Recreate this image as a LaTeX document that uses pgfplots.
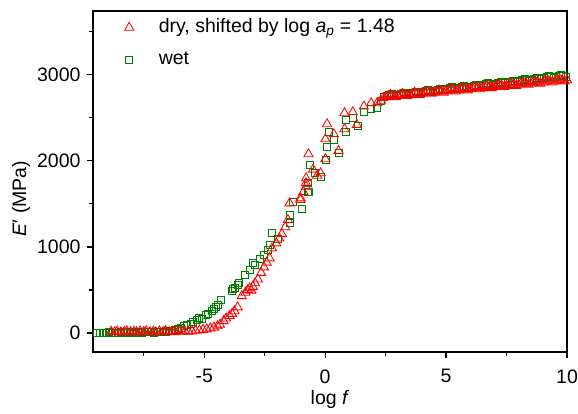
\documentclass[border=0pt]{standalone}
\usepackage{pgfplots}
\pgfplotsset{compat=1.18}
\usepackage{fontspec}
\setmainfont{Liberation Sans}
\definecolor{myred}{RGB}{255,0,0}
\definecolor{mygreen}{RGB}{0,128,0}
\newcommand{\fs}{\fontsize{19.5}{23}\selectfont}
\begin{document}
\begin{tikzpicture}
\begin{axis}[name=ax, scale only axis, width=474pt, height=341pt,
  xmin=-9.6, xmax=10, ymin=-220, ymax=3740,
  xtick={-5,0,5,10}, minor xtick={-7.5,-2.5,2.5,7.5},
  ytick={0,1000,2000,3000}, minor ytick={500,1500,2500,3500},
  tick align=outside, xtick pos=bottom, ytick pos=left,
  major tick length=6pt, minor tick length=4pt,
  axis line style={line width=1.3pt},
  major tick style={line width=1.2pt, black},
  minor tick style={line width=1.2pt, black},
  /pgf/number format/assume math mode=true,
  /pgf/number format/set thousands separator={},
  tick label style={font=\fs},
  xticklabel shift=8pt,
  yticklabel shift=3pt,
  label style={font=\fs},
  xlabel={log \textit{f}},
  ylabel={\textit{E}′ (MPa)},
  ylabel style={at={(ticklabel cs:0.45)}},
  legend style={at={(rel axis cs:0.06,0.99)}, anchor=north west, draw=none, fill=none,
    font=\fs, row sep=10pt, column sep=23pt, nodes={text height=14pt, text depth=4pt}},
  legend cell align=left,
  reverse legend,
]
\addplot[only marks, mark=square, mark size=3.5pt, color=mygreen, mark options={line width=0.85pt}]
coordinates {
(-9.45,5) (-9.33,3) (-9.2,6) (-9.08,4) (-8.95,8) (-8.83,5) (-8.7,7) (-8.58,4) (-8.45,9) (-8.33,6)
(-8.2,8) (-8.08,5) (-7.95,10) (-7.83,7) (-7.7,9) (-7.58,6) (-7.45,12) (-7.33,8) (-7.2,11) (-7.08,7)
(-6.95,14) (-6.83,10) (-6.7,16) (-6.58,12) (-6.45,20) (-6.33,25) (-6.2,35) (-6.08,50) (-5.95,65)
(-5.83,80) (-5.7,95) (-5.55,110) (-5.45,130) (-5.3,150) (-5.2,175) (-5.1,165) (-4.95,205) (-4.85,225)
(-4.7,260) (-4.6,285) (-4.5,305) (-4.42,325) (-4.3,380)
(-3.85,495) (-3.8,510) (-3.75,525) (-3.6,560) (-3.55,580) (-3.31,674) (-3.13,733) (-2.99,810)
(-2.9,790) (-2.7,860) (-2.53,907) (-2.37,965) (-2.3,1023) (-2.2,1159) (-1.95,1089) (-1.47,1275)
(-1.47,1372) (-1.34,1527) (-0.95,1438) (-0.72,1636) (-0.68,1643) (-0.72,1741) (-0.61,1953)
(-0.44,1857) (-0.17,1818) (0.04,2012) (0.08,2166) (0.14,2341) (0.36,2244) (0.55,2089) (0.87,2341)
(0.87,2477) (1.14,2496) (1.35,2411) (1.62,2573) (1.9,2600) (2.15,2613) (2.3,2690)
(2.45,2740) (2.55,2751) (2.65,2762) (2.75,2773) (2.85,2764)
(2.95,2756) (3.05,2767) (3.15,2778) (3.25,2789) (3.35,2780)
(3.45,2772) (3.55,2783) (3.65,2794) (3.75,2805) (3.85,2796)
(3.95,2788) (4.05,2799) (4.15,2810) (4.25,2821) (4.35,2812)
(4.45,2804) (4.55,2815) (4.65,2826) (4.75,2837) (4.85,2828)
(4.95,2820) (5.05,2831) (5.15,2842) (5.25,2853) (5.35,2844)
(5.45,2836) (5.55,2847) (5.65,2858) (5.75,2869) (5.85,2860)
(5.95,2852) (6.05,2863) (6.15,2874) (6.25,2885) (6.35,2876)
(6.45,2868) (6.55,2879) (6.65,2890) (6.75,2901) (6.85,2892)
(6.95,2884) (7.05,2895) (7.15,2906) (7.25,2917) (7.35,2908)
(7.45,2900) (7.55,2911) (7.65,2922) (7.75,2933) (7.85,2924)
(7.95,2916) (8.05,2927) (8.15,2938) (8.25,2949) (8.35,2940)
(8.45,2932) (8.55,2943) (8.65,2954) (8.75,2965) (8.85,2956)
(8.95,2948) (9.05,2959) (9.15,2970) (9.25,2981) (9.35,2972)
(9.45,2964) (9.55,2975) (9.65,2986) (9.75,2997) (9.85,2988)
(9.95,2980)
};
\addlegendentry{wet}
\addplot[only marks, mark=triangle, mark size=5.3pt, color=myred, mark options={line width=0.85pt}]
coordinates {
(-8.85,18) (-8.7,12) (-8.6,20) (-8.45,10) (-8.3,16) (-8.2,22) (-8.05,12) (-7.9,18) (-7.8,10)
(-7.65,20) (-7.5,14) (-7.4,22) (-7.25,12) (-7.1,18) (-7.0,10) (-6.85,20) (-6.7,14) (-6.6,24)
(-6.45,12) (-6.3,18) (-6.2,12) (-6.05,22) (-5.9,16) (-5.8,24) (-5.65,18) (-5.5,20) (-5.35,28)
(-5.2,32) (-5.05,38) (-4.9,45) (-4.75,55) (-4.6,65) (-4.45,80) (-4.35,100) (-4.2,140) (-4.1,170)
(-3.95,200) (-3.85,225) (-3.75,255) (-3.62,300)
(-3.45,430) (-3.3,470) (-3.2,500) (-3.12,520) (-3.05,495) (-2.99,538) (-2.9,580) (-2.78,624)
(-2.65,700) (-2.53,764) (-2.42,820) (-2.3,869) (-2.2,985) (-2.02,1043) (-1.9,1100) (-1.79,1151)
(-1.65,1230) (-1.54,1314) (-1.47,1508) (-1.02,1547) (-1.02,1566) (-0.9,1640) (-0.79,1702)
(-0.79,1799) (-0.79,1744) (-0.69,2078) (-0.5,1900) (-0.33,1829) (-0.19,1857) (0.01,2020)
(0.01,2252) (0.08,2427) (0.36,2310) (0.55,2116) (0.8,2369) (0.8,2555) (1.14,2566) (1.31,2419)
(1.6,2632) (1.9,2671) (2.15,2671) (2.3,2700)
(2.4,2729) (2.5,2742) (2.6,2754) (2.7,2767) (2.8,2754)
(2.9,2742) (3.0,2755) (3.1,2767) (3.2,2780) (3.3,2767)
(3.4,2755) (3.5,2768) (3.6,2780) (3.7,2793) (3.8,2780)
(3.9,2768) (4.0,2781) (4.1,2793) (4.2,2806) (4.3,2793)
(4.4,2781) (4.5,2794) (4.6,2806) (4.7,2819) (4.8,2806)
(4.9,2794) (5.0,2807) (5.1,2819) (5.2,2832) (5.3,2819)
(5.4,2807) (5.5,2820) (5.6,2832) (5.7,2845) (5.8,2832)
(5.9,2820) (6.0,2833) (6.1,2845) (6.2,2858) (6.3,2845)
(6.4,2833) (6.5,2846) (6.6,2858) (6.7,2871) (6.8,2858)
(6.9,2846) (7.0,2859) (7.1,2871) (7.2,2884) (7.3,2871)
(7.4,2859) (7.5,2872) (7.6,2884) (7.7,2897) (7.8,2884)
(7.9,2872) (8.0,2885) (8.1,2897) (8.2,2910) (8.3,2897)
(8.4,2885) (8.5,2898) (8.6,2910) (8.7,2923) (8.8,2910)
(8.9,2898) (9.0,2911) (9.1,2923) (9.2,2936) (9.3,2923)
(9.4,2911) (9.5,2924) (9.6,2936) (9.7,2949) (9.8,2936)
(9.9,2924) (10.0,2937)
};
\addlegendentry{dry, shifted by log \textit{a}\textsubscript{\textit{p}} = 1.48}
\end{axis}
\pgfresetboundingbox
\path[use as bounding box] ([xshift=-93pt,yshift=-62pt]ax.south west) rectangle ([xshift=11pt,yshift=11pt]ax.north east);
\end{tikzpicture}
\end{document}
